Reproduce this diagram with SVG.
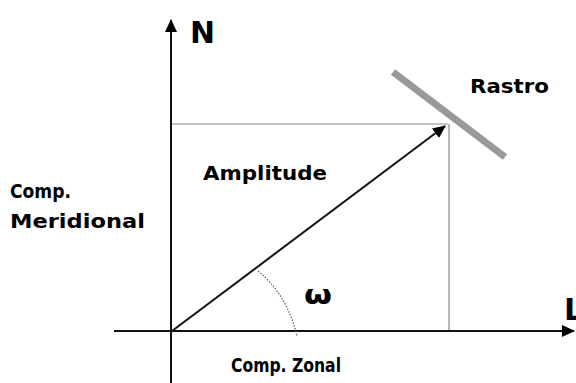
<svg xmlns="http://www.w3.org/2000/svg" width="576" height="383" viewBox="0 0 576 383">
<style>
text{font-family:"DejaVu Sans","Liberation Sans",sans-serif;font-weight:bold;fill:#000}
.lbl{font-size:20px}
.axis{stroke:#111;stroke-width:2;fill:none}
.guide{stroke:#888;stroke-width:1.2;fill:none}
</style>
<defs>
<marker id="ah" markerWidth="14" markerHeight="14" refX="12" refY="6" orient="auto" markerUnits="userSpaceOnUse" viewBox="0 0 14 12">
<path d="M0,0 L13,6 L0,12 Z" fill="#000"/>
</marker>
</defs>
<rect width="576" height="383" fill="#fff"/>
<g id="connectors">
<line class="guide" x1="172" y1="124" x2="448" y2="124"/>
<line class="guide" x1="449" y1="124" x2="449" y2="331"/>
<line class="axis" x1="171" y1="383" x2="171" y2="20" marker-end="url(#ah)"/>
<line class="axis" x1="114" y1="331" x2="574" y2="331" marker-end="url(#ah)"/>
<line class="axis" x1="172" y1="331" x2="445" y2="126" marker-end="url(#ah)"/>
<path d="M258,271 Q288,296 297,336" stroke="#666" stroke-width="1.3" stroke-dasharray="1.5,1.5" fill="none"/>
</g>
<g id="rastro">
<line x1="393" y1="72" x2="505" y2="157" stroke="#999" stroke-width="7"/>
<text class="lbl" x="470" y="93" textLength="79" lengthAdjust="spacingAndGlyphs">Rastro</text>
</g>
<g id="n-label"><text x="190" y="43" font-size="30" textLength="25" lengthAdjust="spacingAndGlyphs">N</text></g>
<g id="l-label"><text x="564" y="320" font-size="30">L</text></g>
<g id="amplitude"><text class="lbl" x="203" y="180" textLength="124" lengthAdjust="spacingAndGlyphs">Amplitude</text></g>
<g id="meridional">
<text class="lbl" x="10" y="198" textLength="61" lengthAdjust="spacingAndGlyphs">Comp.</text>
<text class="lbl" x="10" y="228" textLength="135" lengthAdjust="spacingAndGlyphs">Meridional</text>
</g>
<g id="zonal"><text class="lbl" x="231" y="372" textLength="110" lengthAdjust="spacingAndGlyphs">Comp. Zonal</text></g>
<g id="omega"><text x="304" y="304" font-size="27" textLength="28" lengthAdjust="spacingAndGlyphs">ω</text></g>
</svg>
